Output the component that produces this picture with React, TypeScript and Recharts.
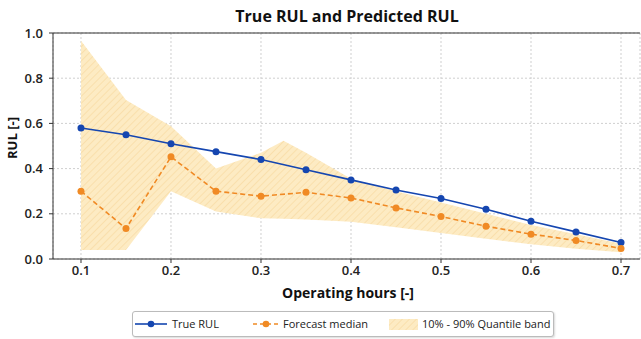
import React from 'react';
import { ComposedChart, Line, Area, XAxis, YAxis, CartesianGrid, ReferenceLine } from 'recharts';

const hours = [0.1, 0.15, 0.2, 0.25, 0.3, 0.35, 0.4, 0.45, 0.5, 0.55, 0.6, 0.65, 0.7];
const trueRul = [0.58, 0.55, 0.51, 0.475, 0.44, 0.395, 0.35, 0.305, 0.268, 0.22, 0.167, 0.12, 0.073];
const forecastMedian = [0.3, 0.135, 0.452, 0.3, 0.278, 0.295, 0.27, 0.226, 0.188, 0.145, 0.11, 0.082, 0.047];

const bandHours = [0.1, 0.15, 0.2, 0.25, 0.3, 0.325, 0.35, 0.4, 0.45, 0.5, 0.55, 0.6, 0.65, 0.7];
const bandLow = [0.04, 0.04, 0.3, 0.21, 0.18, 0.178, 0.175, 0.165, 0.14, 0.115, 0.09, 0.065, 0.045, 0.03];
const bandHigh = [0.966, 0.704, 0.587, 0.4, 0.47, 0.523, 0.47, 0.355, 0.3, 0.25, 0.2, 0.15, 0.11, 0.068];

const xTicks = [0.1, 0.2, 0.3, 0.4, 0.5, 0.6, 0.7];
const yTicks = [0, 0.2, 0.4, 0.6, 0.8, 1.0];

const allX = Array.from(new Set([...hours, ...bandHours])).sort((a, b) => a - b);
const rows = allX.map((x) => {
  const i = hours.indexOf(x);
  const j = bandHours.indexOf(x);
  return {
    x,
    trueRul: i >= 0 ? trueRul[i] : null,
    median: i >= 0 ? forecastMedian[i] : null,
    band: j >= 0 ? [bandLow[j], bandHigh[j]] : null,
  };
});

const BLUE = '#1546b0';
const ORANGE = '#f08a24';
const FONT = '"Open Sans", "DejaVu Sans", sans-serif';
const tickStyle = { fontSize: 13, fill: '#222', fontFamily: FONT, fontWeight: 600 };

export default function App() {
  return (
    <div style={{ position: 'absolute', left: 0, top: 0, width: 641, height: 339, background: '#fff', overflow: 'hidden', fontFamily: FONT }}>
      <svg width={0} height={0} style={{ position: 'absolute' }}>
        <defs>
          <pattern id="hatch" patternUnits="userSpaceOnUse" width={5} height={5} patternTransform="rotate(45)">
            <rect width={5} height={5} fill="#fdebc3" />
            <line x1={0} y1={0} x2={0} y2={5} stroke="#f8dca4" strokeWidth={1.5} />
          </pattern>
        </defs>
      </svg>
      <div style={{ position: 'absolute', left: 53, width: 588, top: 5, textAlign: 'center', fontSize: 16, fontWeight: 700, color: '#111' }}>
        True RUL and Predicted RUL
      </div>
      <div style={{ position: 'absolute', left: 53, width: 590, top: 283, textAlign: 'center', fontSize: 14, fontWeight: 700, color: '#111' }}>
        Operating hours [-]
      </div>
      <div style={{ position: 'absolute', left: -38, top: 129, width: 100, textAlign: 'center', transform: 'rotate(-90deg)', fontSize: 13, fontWeight: 700, color: '#111' }}>
        RUL [-]
      </div>
      <ComposedChart width={641} height={339} data={rows} margin={{ top: 33, right: 1, bottom: 50, left: 13 }}>
        <CartesianGrid stroke="#cfcfcf" strokeDasharray="2 2" />
        <XAxis
          dataKey="x"
          type="number"
          domain={[0.0689, 0.7211]}
          ticks={xTicks}
          tickFormatter={(v: number) => v.toFixed(1)}
          allowDataOverflow
          height={30}
          tickSize={4}
          tickMargin={3}
          tick={tickStyle}
          stroke="#333"
          axisLine={{ stroke: '#333' }}
        />
        <YAxis
          type="number"
          domain={[0, 1]}
          ticks={yTicks}
          tickFormatter={(v: number) => v.toFixed(1)}
          width={40}
          tickSize={4}
          tickMargin={6}
          tick={tickStyle}
          stroke="#333"
          axisLine={{ stroke: '#333' }}
        />
        <ReferenceLine y={1} stroke="#333" />
        <Area
          dataKey="band"
          stroke="none"
          fill="url(#hatch)"
          fillOpacity={1}
          isAnimationActive={false}
          connectNulls
          activeDot={false}
        />
        <Line
          dataKey="trueRul"
          stroke={BLUE}
          strokeWidth={1.6}
          dot={{ r: 3.5, fill: BLUE, stroke: BLUE, strokeWidth: 0 }}
          connectNulls
          isAnimationActive={false}
        />
        <Line
          dataKey="median"
          stroke={ORANGE}
          strokeWidth={1.6}
          strokeDasharray="5 3"
          dot={{ r: 3.5, fill: ORANGE, stroke: ORANGE, strokeWidth: 0, strokeDasharray: '' }}
          connectNulls
          isAnimationActive={false}
        />
      </ComposedChart>
      <div style={{ position: 'absolute', left: 132, top: 311, width: 420, height: 24, border: '1px solid #bbb', borderRadius: 3, boxShadow: '1px 1px 2px rgba(0,0,0,0.15)', background: '#fff', fontSize: 11, color: '#222' }}>
        <svg width={420} height={24} style={{ position: 'absolute', left: 0, top: 0 }}>
          <line x1={2} y1={12} x2={34} y2={12} stroke={BLUE} strokeWidth={1.6} />
          <circle cx={18} cy={12} r={3.3} fill={BLUE} />
          <line x1={120} y1={12} x2={146} y2={12} stroke={ORANGE} strokeWidth={1.6} strokeDasharray="4 3" />
          <circle cx={133} cy={12} r={3.3} fill={ORANGE} />
          <rect x={256} y={7} width={29} height={11} fill="url(#hatch)" />
        </svg>
        <span style={{ position: 'absolute', left: 39, top: 4 }}>True RUL</span>
        <span style={{ position: 'absolute', left: 150, top: 4 }}>Forecast median</span>
        <span style={{ position: 'absolute', left: 289, top: 4 }}>10% - 90% Quantile band</span>
      </div>
    </div>
  );
}
